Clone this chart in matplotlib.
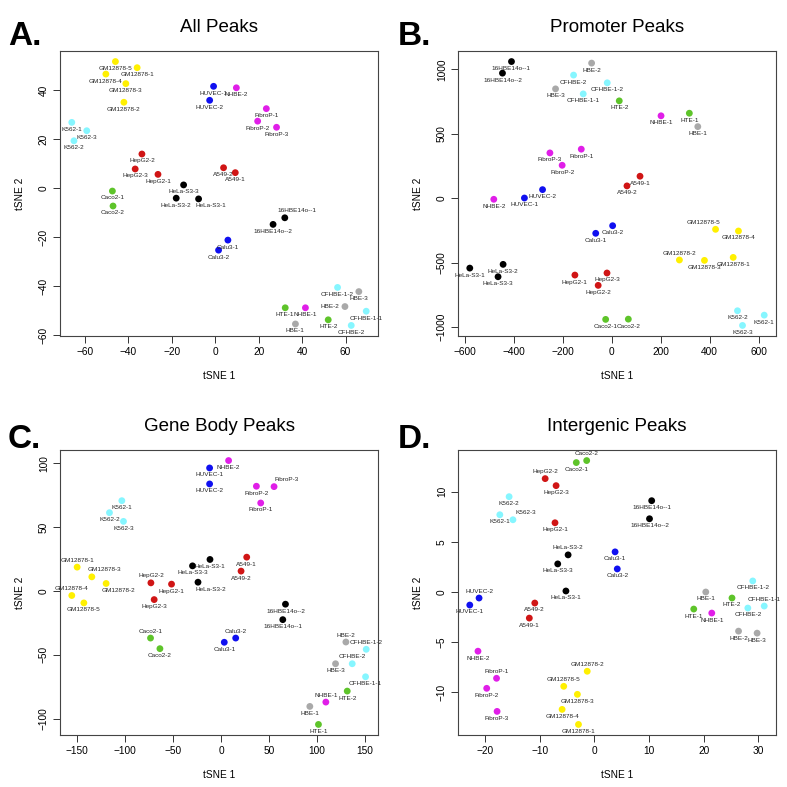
import matplotlib.pyplot as plt
from matplotlib.ticker import MultipleLocator

plt.rcParams['font.family'] = ['Liberation Sans', 'DejaVu Sans']

# sample names, same order in every panel
samples = ["GM12878-1", "GM12878-2", "GM12878-3", "GM12878-4", "GM12878-5",
           "K562-1", "K562-2", "K562-3",
           "HepG2-1", "HepG2-2", "HepG2-3",
           "HeLa-S3-1", "HeLa-S3-2", "HeLa-S3-3",
           "Caco2-1", "Caco2-2", "HUVEC-1", "HUVEC-2", "NHBE-1", "NHBE-2",
           "FibroP-1", "FibroP-2", "FibroP-3", "A549-1", "A549-2",
           "16HBE14o--1", "16HBE14o--2", "Calu3-1", "Calu3-2",
           "CFHBE-1-1", "CFHBE-1-2", "CFHBE-2",
           "HBE-1", "HBE-2", "HBE-3", "HTE-1", "HTE-2"]

group_colors = {"GM12878": "#FFF000", "K562": "#86F6FF", "HepG2": "#D01515",
                "HeLa": "#000000", "Caco2": "#5EC42A", "HUVEC": "#1010F0",
                "NHBE": "#E01EE8", "FibroP": "#E01EE8", "A549": "#D01515",
                "16HBE": "#000000", "Calu3": "#1010F0", "CFHBE": "#86F6FF",
                "HBE": "#A9A9A9", "HTE": "#5EC42A"}

# All Peaks
all_x = [-36.0, -42.1, -41.2, -50.4, -46.0, -66.1, -65.1, -59.2, -26.4, -33.8, -36.9,
         -7.7, -18.0, -14.6, -47.4, -47.1, -0.8, -2.6, 41.5, 9.7, 23.5, 19.5, 28.2,
         9.2, 3.8, 32.0, 26.6, 5.8, 1.5, 69.5, 56.3, 62.6, 36.9, 59.7, 66.1, 32.2, 52.0]
all_y = [49.1, 35.0, 42.6, 46.5, 51.6, 26.8, 19.3, 23.4, 5.6, 13.9, 7.8,
         -4.4, -4.1, 1.3, -1.2, -7.3, 41.5, 35.8, -48.8, 40.9, 32.4, 27.3, 24.8,
         6.3, 8.3, -12.1, -14.8, -21.2, -25.3, -50.2, -40.5, -56.0, -55.4, -48.3, -42.2, -48.8, -53.7]

# Promoter Peaks
prom_x = [496, 276.5, 378.7, 517.5, 424, 622.6, 513.5, 534, -150, -55, -19,
          -579, -443, -463.6, -24.5, 68, -356, -282, 201.5, -481, -124, -202, -252,
          115.7, 62.5, -408.8, -445.6, -65, 4, -116, -18, -155.4, 351.5, -81.8, -229, 317, 31]
prom_y = [-459, -479, -482, -254, -241, -907, -873, -987, -596, -676, -580,
          -542, -513, -609, -940, -938, 2, 67, 640, -8, 381, 256, 352,
          171, 96, 1061, 971, -272, -213, 810, 896, 956, 556, 1049, 849, 660, 756]

# Gene Body Peaks
body_x = [-150, -119.8, -134.7, -155.6, -143, -103.4, -116.3, -101.7, -51.6, -73.1, -69.7,
          -11.5, -24, -29.7, -73.5, -63.7, -11.9, -11.9, 109.3, 7.9, 41.4, 36.9, 55.3,
          26.8, 20.9, 64.4, 67.2, 3.4, 15.3, 150.7, 151.4, 136.8, 92.6, 130.2, 119.4, 101.6, 131.6]
body_y = [18.6, 5.8, 11, -3.6, -9.4, 70.6, 61.2, 54.4, 5.3, 6.3, -6.8,
          24.6, 6.8, 19.6, -36.9, -45.2, 96.2, 83.7, -87, 102, 68.8, 81.9, 81.6,
          26.4, 15.5, -22.5, -10.4, -40.2, -36.9, -67.2, -45.7, -57, -90.4, -40, -57, -104.5, -78.4]

# Intergenic Peaks
inter_x = [-2.9, -1.3, -3.1, -5.9, -5.6, -17.3, -15.6, -14.9, -7.2, -9.0, -7.0,
           -5.2, -4.8, -6.7, -3.3, -1.4, -22.8, -21.1, 21.5, -21.3, -17.9, -19.7, -17.8,
           -11.9, -10.9, 10.5, 10.1, 3.8, 4.2, 31.1, 29.0, 28.1, 20.4, 26.4, 29.8, 18.2, 25.2]
inter_y = [-13.2, -7.9, -10.2, -11.7, -9.4, 7.7, 9.5, 7.2, 6.9, 11.3, 10.6,
           0.1, 3.7, 2.8, 12.9, 13.1, -1.3, -0.6, -2.1, -5.9, -8.6, -9.6, -11.9,
           -2.6, -1.1, 9.1, 7.3, 4.0, 2.3, -1.4, 1.1, -1.6, 0.0, -3.9, -4.1, -1.7, -0.6]

# label side where it is not below the point
all_pos = {"HeLa-S3-1": "br", "16HBE14o--1": "ar", "HBE-2": "l"}
prom_pos = {"GM12878-5": "al", "GM12878-2": "a"}
body_pos = {"GM12878-1": "a", "GM12878-3": "ar", "GM12878-2": "br", "GM12878-4": "a",
            "HepG2-2": "a", "FibroP-3": "ar", "Caco2-1": "a", "Calu3-2": "a",
            "HBE-2": "a", "CFHBE-1-2": "a", "CFHBE-2": "a", "NHBE-1": "a", "HeLa-S3-2": "br"}
inter_pos = {"Caco2-2": "a", "HepG2-2": "a", "K562-3": "ar", "HeLa-S3-2": "a",
             "HUVEC-2": "a", "CFHBE-1-1": "a", "GM12878-2": "a", "FibroP-1": "a",
             "GM12878-5": "a"}

offsets = {"b": (0, -5), "a": (0, 5), "l": (-4, 0), "r": (4, 0),
           "br": (9, -5), "ar": (9, 5), "al": (-9, 5)}


def color_of(name):
    for key, c in group_colors.items():
        if name.startswith(key):
            return c
    return "black"


panels = [
    ("A.", "All Peaks", all_x, all_y, all_pos, 20, 20),
    ("B.", "Promoter Peaks", prom_x, prom_y, prom_pos, 200, 500),
    ("C.", "Gene Body Peaks", body_x, body_y, body_pos, 50, 50),
    ("D.", "Intergenic Peaks", inter_x, inter_y, inter_pos, 10, 5),
]

fig = plt.figure(figsize=(7.87, 7.87), dpi=100)
W = 787.0
boxes = [(60, 51), (458, 51), (60, 450), (458, 450)]
letter_xy = [(8, 45), (398, 45), (8, 448), (398, 448)]

for (letter, title, xs, ys, pos, xstep, ystep), (bx, by), (lx, ly) in zip(panels, boxes, letter_xy):
    ax = fig.add_axes([bx / W, 1 - (by + 285) / W, 318 / W, 285 / W])
    cols = [color_of(s) for s in samples]
    ax.scatter(xs, ys, s=24, c=cols, edgecolors='none', zorder=3)
    ax.margins(0.04)
    ax.xaxis.set_major_locator(MultipleLocator(xstep))
    ax.yaxis.set_major_locator(MultipleLocator(ystep))
    for name, x, y in zip(samples, xs, ys):
        code = pos.get(name, "b")
        dx, dy = offsets[code]
        ha = "center"
        if code == "l":
            ha = "right"
        elif code == "r":
            ha = "left"
        t = ax.annotate(name, (x, y), xytext=(dx, dy), textcoords="offset points",
                        ha=ha, va="center", fontsize=4.6, color="#262626", zorder=4)
        t.set_clip_on(True)
    ax.set_title(title, fontsize=13.5, pad=14)
    ax.set_xlabel("tSNE 1", fontsize=7.3, labelpad=10)
    ax.set_ylabel("tSNE 2", fontsize=7.3, labelpad=10)
    ax.tick_params(direction="out", length=5, width=0.7, pad=3, labelsize=7.3,
                   color="#333333")
    plt.setp(ax.get_yticklabels(), rotation=90, va="center")
    for sp in ax.spines.values():
        sp.set_linewidth(0.8)
        sp.set_color("#444444")
    fig.text(lx / W, 1 - ly / W, letter, fontsize=24, fontweight="bold", va="baseline")

fig.savefig("out.png", dpi=100)
